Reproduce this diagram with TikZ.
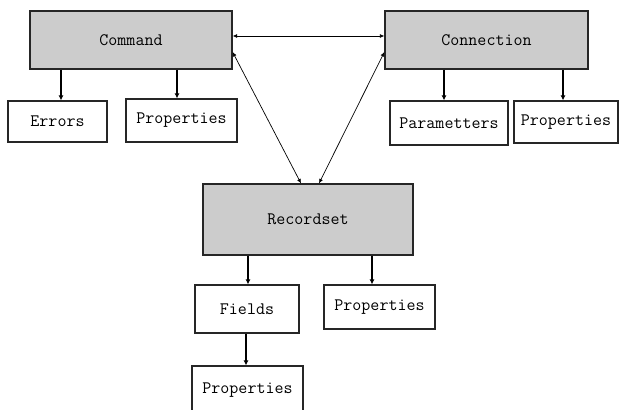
\documentclass[tikz,border=0pt]{standalone}
\usepackage{fontspec}
\usetikzlibrary{arrows.meta}
\definecolor{boxgray}{HTML}{CCCCCC}
\tikzset{
  base/.style={draw=black!85, line width=1.2pt, inner sep=0pt, font=\ttfamily\fontsize{17.5}{20}\selectfont},
  mainbox/.style={base, fill=boxgray},
  subbox/.style={base, fill=white},
  arr/.style={line width=1.1pt, -{Latex[length=5pt,width=5pt]}},
  darr/.style={line width=0.7pt, {Latex[length=4.5pt,width=4pt]}-{Latex[length=4.5pt,width=4pt]}},
}
\begin{document}
\begin{tikzpicture}[x=1pt,y=-1pt]
\useasboundingbox (0,0) rectangle (620,409);
\node[mainbox, minimum width=202pt, minimum height=58pt] (cmd) at (131,40) {Command};
\node[mainbox, minimum width=203pt, minimum height=58pt] (conn) at (486.5,40) {Connection};
\node[mainbox, minimum width=210pt, minimum height=71pt] (rec) at (308,219.5) {Recordset};
\node[subbox, minimum width=99pt, minimum height=41pt] (err) at (57.5,121.5) {Errors};
\node[subbox, minimum width=111pt, minimum height=43pt] (cprop) at (181.5,120.5) {Properties};
\node[subbox, minimum width=118pt, minimum height=44pt] (par) at (449,123) {Parametters};
\node[subbox, minimum width=104pt, minimum height=42pt] (nprop) at (566,122) {Properties};
\node[subbox, minimum width=104pt, minimum height=48pt] (fld) at (247,309) {Fields};
\node[subbox, minimum width=111pt, minimum height=44pt] (rprop) at (379.5,307) {Properties};
\node[subbox, minimum width=111pt, minimum height=48pt] (fprop) at (247.5,390) {Properties};
\draw[arr] ([xshift=3.5pt]err.north |- cmd.south) -- ([xshift=3.5pt]err.north);
\draw[arr] ([xshift=-4.5pt]cprop.north |- cmd.south) -- ([xshift=-4.5pt]cprop.north);
\draw[arr] ([xshift=-5pt]par.north |- conn.south) -- ([xshift=-5pt]par.north);
\draw[arr] ([xshift=-3pt]nprop.north |- conn.south) -- ([xshift=-3pt]nprop.north);
\draw[arr] ([xshift=1pt]fld.north |- rec.south) -- ([xshift=1pt]fld.north);
\draw[arr] ([xshift=-7.5pt]rprop.north |- rec.south) -- ([xshift=-7.5pt]rprop.north);
\draw[arr] ([xshift=-1pt]fld.south) -- ([xshift=-1pt]fld.south |- fprop.north);
\draw[darr] ([yshift=4pt]cmd.east) -- ([yshift=4pt]conn.west);
\draw[darr] ([yshift=-12pt]cmd.east) -- ([xshift=-7pt]rec.north);
\draw[darr] ([yshift=-12pt]conn.west) -- ([xshift=11pt]rec.north);
\end{tikzpicture}
\end{document}
